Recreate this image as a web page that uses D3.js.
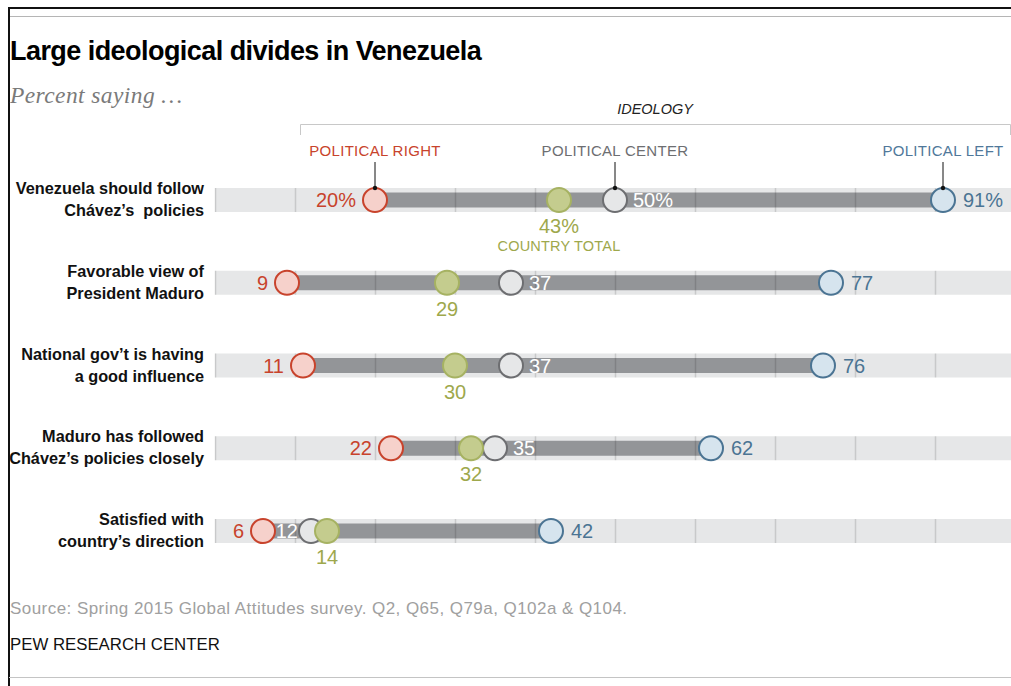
<!DOCTYPE html>
<html>
<head>
<meta charset="utf-8">
<script src="https://cdn.jsdelivr.net/npm/d3@7"></script>
<style>
  html, body { margin: 0; padding: 0; background: #fff; }
  svg { display: block; font-family: "Liberation Sans", Arial, sans-serif; }
</style>
</head>
<body>
<svg id="chart" width="1011" height="686"></svg>
<script>
// ---- data ----
const categories = [
  ["Venezuela should follow", "Chávez’s  policies"],
  ["Favorable view of", "President Maduro"],
  ["National gov’t is having", "a good influence"],
  ["Maduro has followed", "Chávez’s policies closely"],
  ["Satisfied with", "country’s direction"]
];
const rightValues  = [20, 9, 11, 22, 6];
const totalValues  = [43, 29, 30, 32, 14];
const centerValues = [50, 37, 37, 35, 12];
const leftValues   = [91, 77, 76, 62, 42];
const gridTicks = [0, 10, 20, 30, 40, 50, 60, 70, 80, 90, 100];
const seriesNames = ["POLITICAL RIGHT", "POLITICAL CENTER", "POLITICAL LEFT"];
const totalName = "COUNTRY TOTAL";

const title = "Large ideological divides in Venezuela";
const subtitle = "Percent saying …";
const groupTitle = "IDEOLOGY";
const source = "Source: Spring 2015 Global Attitudes survey. Q2, Q65, Q79a, Q102a & Q104.";
const credit = "PEW RESEARCH CENTER";

// ---- styles ----
const C = {
  right:  { fill: "#f6d1cb", stroke: "#c8432c", text: "#c8432c" },
  total:  { fill: "#c4cc8e", stroke: "#a6b262", text: "#9ea84c" },
  center: { fill: "#e6e7e8", stroke: "#6d6e71", text: "#ffffff" },
  left:   { fill: "#d6e4ee", stroke: "#4b7493", text: "#4b7493" }
};

const svg = d3.select("#chart");
const x = d3.scaleLinear().domain([0, 100]).range([215, 1015]);
const y = d3.scalePoint().domain(d3.range(categories.length)).range([200, 531]);
const R = 12;
const bandH = 24, barH = 15;

// frame
svg.append("line").attr("x1", 8).attr("x2", 1011).attr("y1", 8).attr("y2", 8).attr("stroke", "#111").attr("stroke-width", 2);
svg.append("line").attr("x1", 9).attr("x2", 1011).attr("y1", 16.5).attr("y2", 16.5).attr("stroke", "#b5b5b5").attr("stroke-width", 1);
svg.append("line").attr("x1", 9).attr("x2", 9).attr("y1", 7).attr("y2", 686).attr("stroke", "#111").attr("stroke-width", 2);
svg.append("line").attr("x1", 9).attr("x2", 1011).attr("y1", 677.5).attr("y2", 677.5).attr("stroke", "#c4c4c4").attr("stroke-width", 1);

// titles
svg.append("text").attr("x", 10).attr("y", 60).text(title)
  .attr("font-size", 27).attr("font-weight", "bold").attr("letter-spacing", -0.55).attr("fill", "#000");
svg.append("text").attr("x", 10).attr("y", 103).text(subtitle)
  .attr("font-family", "'Liberation Serif', Georgia, serif").attr("font-style", "italic")
  .attr("font-size", 23.5).attr("letter-spacing", 0.4).attr("fill", "#7a7a7a");

// ideology bracket
svg.append("text").attr("x", 655).attr("y", 114).attr("text-anchor", "middle").text(groupTitle)
  .attr("font-size", 14.5).attr("font-style", "italic").attr("fill", "#222");
svg.append("path").attr("d", `M300.5,135V124.5H1010.5V135`).attr("fill", "none").attr("stroke", "#c8c8c8").attr("stroke-width", 1);

// category labels
const catG = svg.append("g");
categories.forEach((lines, i) => {
  const t = catG.append("text").attr("x", 204).attr("y", y(i)).attr("text-anchor", "end")
    .attr("font-size", 16.3).attr("font-weight", "bold").attr("fill", "#111");
  lines.forEach((ln, k) => {
    t.append("tspan").attr("x", 204).attr("y", y(i) + (k === 0 ? -6 : 16)).text(ln)
      .attr("xml:space", "preserve").style("white-space", "pre");
  });
});

// rows
const rows = categories.map((c, i) => ({
  i, r: rightValues[i], t: totalValues[i], c: centerValues[i], l: leftValues[i]
}));

const rowG = svg.append("g").selectAll("g").data(rows).join("g")
  .attr("transform", d => `translate(0,${y(d.i)})`);

// background band
rowG.append("rect").attr("x", x(0)).attr("width", x(100) - x(0)).attr("y", -bandH / 2).attr("height", bandH).attr("fill", "#e6e7e8");
// dumbbell bar
rowG.append("rect")
  .attr("x", d => x(d3.min([d.r, d.t, d.c, d.l])))
  .attr("width", d => x(d3.max([d.r, d.t, d.c, d.l])) - x(d3.min([d.r, d.t, d.c, d.l])))
  .attr("y", -barH / 2).attr("height", barH).attr("fill", "#939598");
// gridlines
rowG.selectAll("line.grid").data(gridTicks).join("line").attr("class", "grid")
  .attr("x1", v => Math.round(x(v)) + 0.5).attr("x2", v => Math.round(x(v)) + 0.5)
  .attr("y1", -bandH / 2).attr("y2", bandH / 2)
  .attr("stroke", "rgba(0,0,0,0.13)").attr("stroke-width", 1.5);

function pct(d, v) { return d.i === 0 ? v + "%" : String(v); }
const valFont = 20;

// circles
["right", "center", "total", "left"].forEach(key => {
  const k = key[0];
  rowG.append("circle").attr("cx", d => x(d[k])).attr("cy", 0).attr("r", R)
    .attr("fill", C[key].fill).attr("stroke", C[key].stroke).attr("stroke-width", 2);
});

// value labels
rowG.append("text").attr("x", d => x(d.r) - R - 7).attr("y", 0).attr("dy", "0.36em")
  .attr("text-anchor", "end").attr("font-size", valFont).attr("fill", C.right.text).text(d => pct(d, d.r));
rowG.append("text").attr("x", d => x(d.l) + R + 8).attr("y", 0).attr("dy", "0.36em")
  .attr("text-anchor", "start").attr("font-size", valFont).attr("fill", C.left.text).text(d => pct(d, d.l));
rowG.append("text")
  .attr("x", d => (d.t > d.c && d.t - d.c < 5) ? x(d.c) - R - 1 : x(d.c) + R + 6)
  .attr("text-anchor", d => (d.t > d.c && d.t - d.c < 5) ? "end" : "start")
  .attr("y", 0).attr("dy", "0.36em").attr("font-size", valFont).attr("fill", C.center.text).text(d => pct(d, d.c));
rowG.append("text").attr("x", d => x(d.t)).attr("y", 33).attr("text-anchor", "middle")
  .attr("font-size", valFont).attr("fill", C.total.text).text(d => pct(d, d.t));

// legend (first row)
const first = rows[0];
const legendItems = [
  { name: seriesNames[0], v: first.r, color: C.right.text },
  { name: seriesNames[1], v: first.c, color: "#6d6e71" },
  { name: seriesNames[2], v: first.l, color: "#50789a" }
];
const lg = svg.append("g");
legendItems.forEach(it => {
  lg.append("text").attr("x", x(it.v)).attr("y", 156).attr("text-anchor", "middle")
    .attr("font-size", 15).attr("letter-spacing", 0.3).attr("fill", it.color).text(it.name);
  lg.append("line").attr("x1", x(it.v)).attr("x2", x(it.v)).attr("y1", 162).attr("y2", y(0) - R)
    .attr("stroke", "#111").attr("stroke-width", 1);
  lg.append("circle").attr("cx", x(it.v)).attr("cy", y(0) - R).attr("r", 2.2).attr("fill", "#111");
});
lg.append("text").attr("x", x(first.t)).attr("y", 251).attr("text-anchor", "middle")
  .attr("font-size", 14.5).attr("letter-spacing", 0.2).attr("fill", C.total.text).text(totalName);

// footer
svg.append("text").attr("x", 10).attr("y", 614).text(source).attr("font-size", 17).attr("letter-spacing", 0.45).attr("fill", "#a0a0a0");
svg.append("text").attr("x", 10).attr("y", 650).text(credit).attr("font-size", 16.8).attr("fill", "#111");
</script>
</body>
</html>
